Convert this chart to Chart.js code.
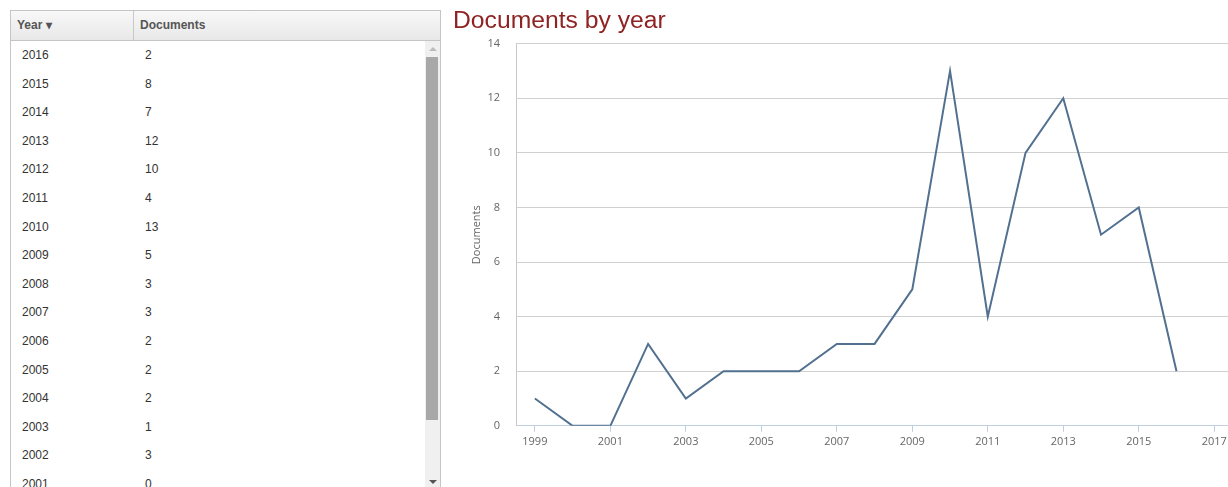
<!DOCTYPE html>
<html>
<head>
<meta charset="utf-8">
<script src="https://cdn.jsdelivr.net/npm/chart.js@4/dist/chart.umd.min.js"></script>
<style>
  html, body { margin: 0; padding: 0; background: #fff; overflow: hidden; width: 1228px; height: 487px; }
  body { font-family: "Liberation Sans", Arial, sans-serif; position: relative; }
  #grid { position: absolute; left: 10px; top: 10px; width: 429px; height: 490px; border: 1px solid #c5c5c5; overflow: hidden; }
  #head { height: 29px; border-bottom: 1px solid #c5c5c5; background: linear-gradient(#f8f8f8, #e8e8e8); position: relative; font-size: 12px; color: #555; font-weight: bold; }
  #head div { position: absolute; top: 0; line-height: 29px; }
  #head .c1 { left: 6px; width: 116px; border-right: 1px solid #c8c8c8; }
  #head .c2 { left: 129px; }
  #rows { position: absolute; left: 0; top: 30px; width: 413px; font-size: 12px; color: #333; }
  .row { height: 28.6px; line-height: 28.6px; position: relative; }
  .row span { position: absolute; }
  .row .y { left: 11px; }
  .row .d { left: 134px; }
  #track { position: absolute; left: 414px; top: 30px; width: 15px; height: 460px; background: #f0f0f0; }
  #thumb { position: absolute; left: 1px; top: 16px; width: 12px; height: 363px; background: #a8a8a8; }
  .arr { position: absolute; left: 4px; width: 0; height: 0; border-left: 4px solid transparent; border-right: 4px solid transparent; }
  #up { top: 6px; border-bottom: 4px solid #bbb; }
  #down { top: 439px; border-top: 4px solid #555; }
  #wrap { position: absolute; left: 445px; top: 0; width: 810px; height: 487px; }
</style>
</head>
<body>
<div id="grid">
  <div id="head"><div class="c1">Year &#x25BE;</div><div class="c2">Documents</div></div>
  <div id="rows"></div>
  <div id="track"><div class="arr" id="up"></div><div id="thumb"></div><div class="arr" id="down"></div></div>
</div>
<div id="wrap"><canvas id="myChart"></canvas></div>
<script>
const years = [1999, 2000, 2001, 2002, 2003, 2004, 2005, 2006, 2007, 2008, 2009, 2010, 2011, 2012, 2013, 2014, 2015, 2016];
const documents = [1, 0, 0, 3, 1, 2, 2, 2, 3, 3, 5, 13, 4, 10, 12, 7, 8, 2];
const xTicks = [1999, 2001, 2003, 2005, 2007, 2009, 2011, 2013, 2015, 2017];
const yTicks = [0, 2, 4, 6, 8, 10, 12, 14];

// table, newest first
const rows = document.getElementById('rows');
for (let i = years.length - 1; i >= 0; i--) {
  const r = document.createElement('div');
  r.className = 'row';
  r.innerHTML = '<span class="y">' + years[i] + '</span><span class="d">' + documents[i] + '</span>';
  rows.appendChild(r);
}

const ctx = document.getElementById('myChart');

const data = {
  datasets: [{
    label: 'Documents',
    data: years.map((y, i) => ({x: y, y: documents[i]})),
    borderColor: '#52708f',
    borderWidth: 2,
    pointRadius: 0,
    fill: false,
    tension: 0
  }]
};

const config = {
  type: 'line',
  data: data,
  options: {
    responsive: true,
    maintainAspectRatio: false,
    animation: false,
    layout: { padding: { left: 8, right: 0, top: 0, bottom: 36 } },
    plugins: {
      legend: { display: false },
      tooltip: { enabled: false },
      title: {
        display: true,
        text: 'Documents by year',
        align: 'start',
        color: '#8f2222',
        font: { family: '"Liberation Sans", Arial, sans-serif', size: 24.7, weight: 'normal' },
        padding: { top: 6, bottom: 8 }
      }
    },
    scales: {
      x: {
        type: 'linear',
        min: 1998.5,
        max: 2018.08,
        afterBuildTicks: s => { s.ticks = xTicks.map(v => ({value: v})); },
        grid: { drawOnChartArea: false, color: '#c0d0e0', tickLength: 6 },
        border: { color: '#c0d0e0' },
        ticks: {
          color: '#666',
          font: { family: '"Open Sans", "DejaVu Sans", sans-serif', size: 11 },
          padding: 3,
          maxRotation: 0,
          callback: v => String(v)
        }
      },
      y: {
        min: 0,
        max: 14,
        afterBuildTicks: s => { s.ticks = yTicks.map(v => ({value: v})); },
        afterFit: s => { s.width = 63; },
        grid: { color: '#d0d0d0', drawTicks: false },
        border: { color: '#c8c8c8' },
        ticks: {
          color: '#666',
          font: { family: '"Open Sans", "DejaVu Sans", sans-serif', size: 11 },
          padding: 16
        },
        title: {
          display: true,
          text: 'Documents',
          color: '#666',
          font: { family: '"Open Sans", "DejaVu Sans", sans-serif', size: 11 },
          padding: { top: 17, bottom: 0 }
        }
      }
    }
  }
};

let chart = new Chart(ctx, config);
</script>
</body>
</html>
